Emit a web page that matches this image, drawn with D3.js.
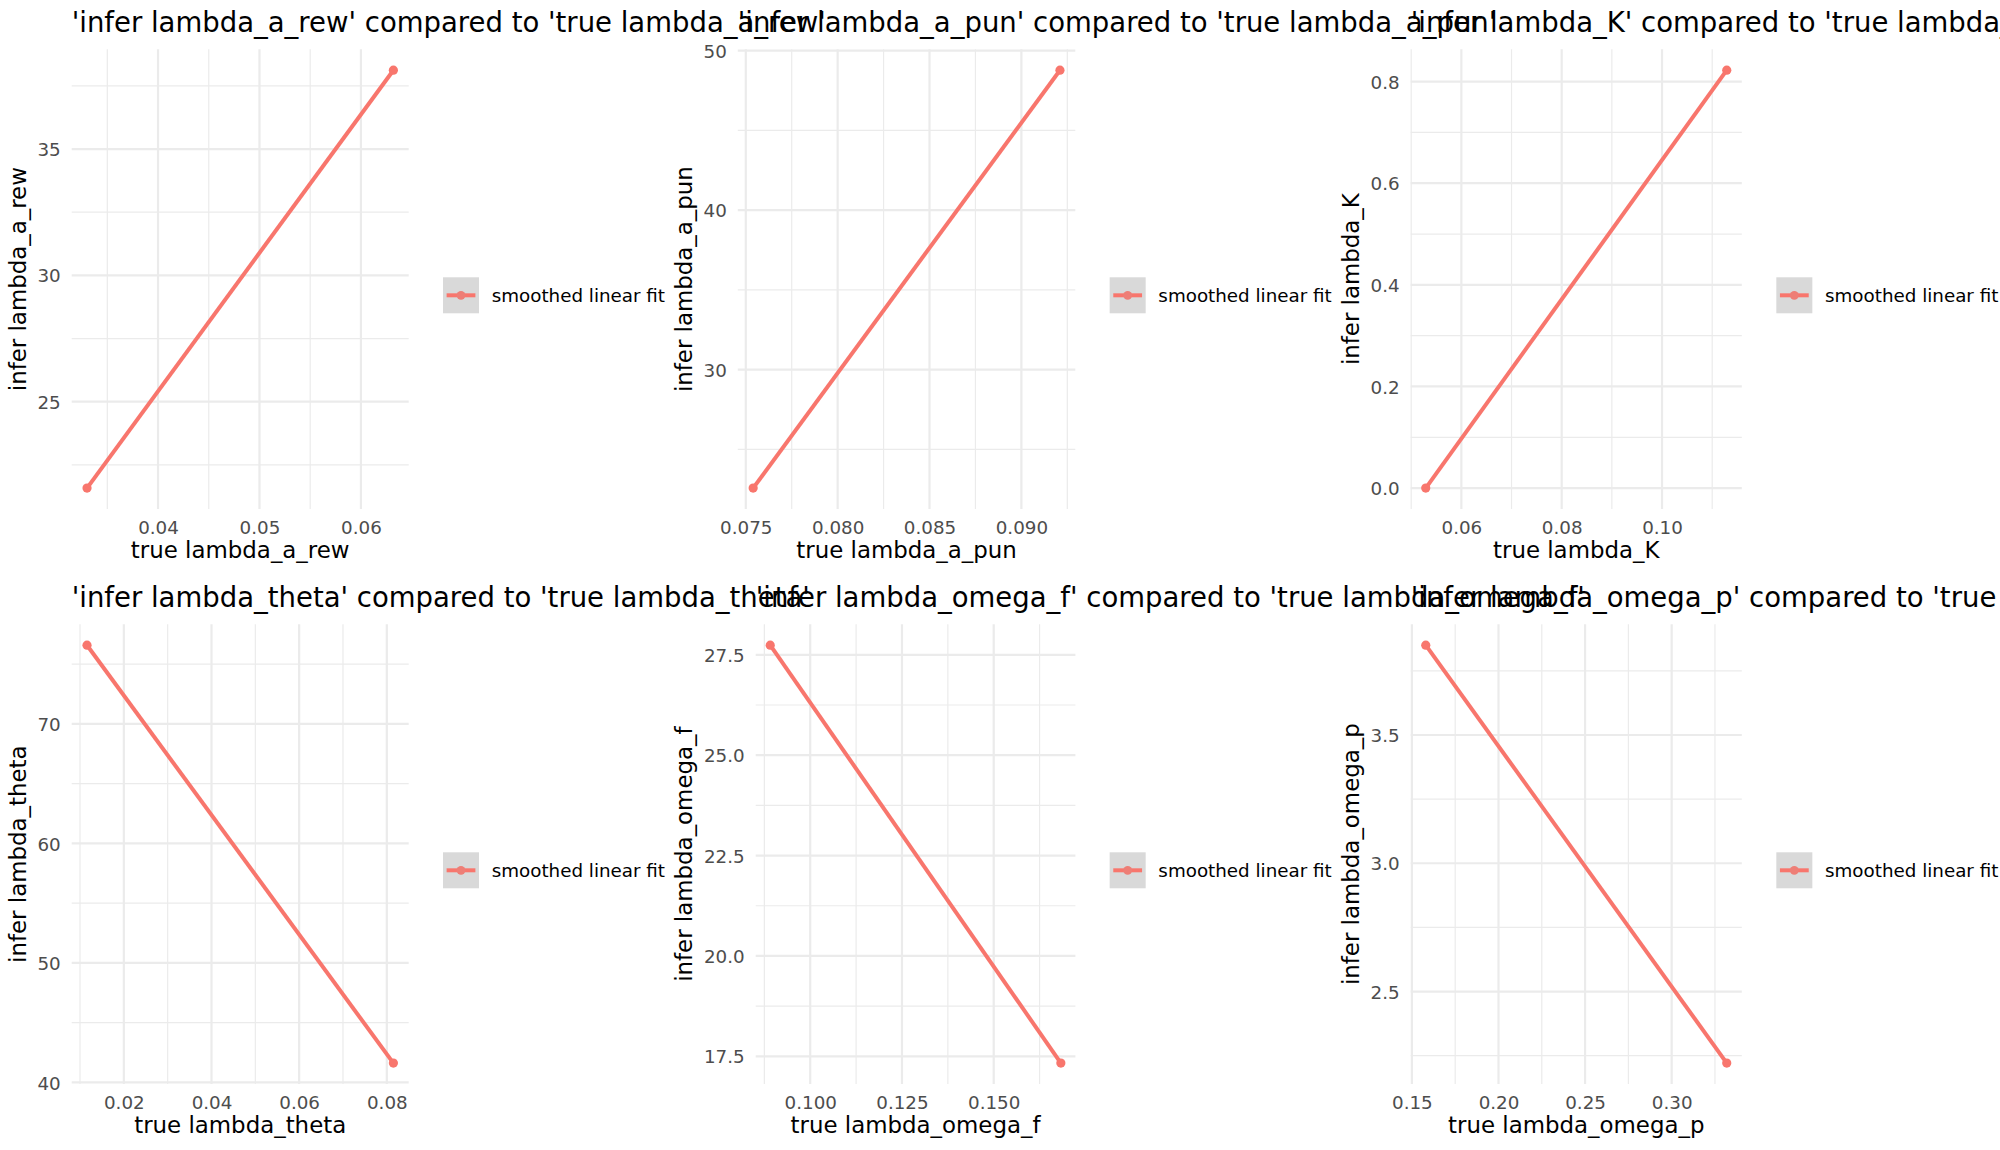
<!DOCTYPE html>
<html>
<head>
<meta charset="utf-8">
<script src="https://cdn.jsdelivr.net/npm/d3@7"></script>
<style>
  html, body { margin: 0; padding: 0; background: #fff; }
  svg { display: block; font-family: "DejaVu Sans", sans-serif; }
</style>
</head>
<body>
<svg id="chart" width="2000" height="1150"></svg>
<script>
// ---------------- data ----------------
const paramNames = ["lambda_a_rew", "lambda_a_pun", "lambda_K", "lambda_theta", "lambda_omega_f", "lambda_omega_p"];
const trueValues = [
  [0.0330, 0.0632],
  [0.0754, 0.0921],
  [0.0529, 0.1129],
  [0.0116, 0.0815],
  [0.0891, 0.1683],
  [0.1580, 0.3318]
];
const inferValues = [
  [21.58, 38.12],
  [22.57, 48.77],
  [0.000, 0.8224],
  [76.59, 41.62],
  [27.74, 17.33],
  [3.850, 2.221]
];
const xTickValues = [
  [0.04, 0.05, 0.06],
  [0.075, 0.080, 0.085, 0.090],
  [0.06, 0.08, 0.10],
  [0.02, 0.04, 0.06, 0.08],
  [0.100, 0.125, 0.150],
  [0.15, 0.20, 0.25, 0.30]
];
const xTickLabels = [
  ["0.04", "0.05", "0.06"],
  ["0.075", "0.080", "0.085", "0.090"],
  ["0.06", "0.08", "0.10"],
  ["0.02", "0.04", "0.06", "0.08"],
  ["0.100", "0.125", "0.150"],
  ["0.15", "0.20", "0.25", "0.30"]
];
const xMinorValues = [
  [0.035, 0.045, 0.055],
  [0.0775, 0.0825, 0.0875, 0.0925],
  [0.05, 0.07, 0.09, 0.11],
  [0.01, 0.03, 0.05, 0.07],
  [0.0875, 0.1125, 0.1375, 0.1625],
  [0.175, 0.225, 0.275, 0.325]
];
const yTickValues = [
  [25, 30, 35],
  [30, 40, 50],
  [0.0, 0.2, 0.4, 0.6, 0.8],
  [40, 50, 60, 70],
  [17.5, 20.0, 22.5, 25.0, 27.5],
  [2.5, 3.0, 3.5]
];
const yTickLabels = [
  ["25", "30", "35"],
  ["30", "40", "50"],
  ["0.0", "0.2", "0.4", "0.6", "0.8"],
  ["40", "50", "60", "70"],
  ["17.5", "20.0", "22.5", "25.0", "27.5"],
  ["2.5", "3.0", "3.5"]
];
const yMinorValues = [
  [22.5, 27.5, 32.5, 37.5],
  [25, 35, 45],
  [0.1, 0.3, 0.5, 0.7],
  [45, 55, 65, 75],
  [18.75, 21.25, 23.75, 26.25],
  [2.25, 2.75, 3.25, 3.75]
];
const legendLabel = "smoothed linear fit";

// ---------------- layout ----------------
const cellW = 2000 / 3, cellH = 575;
const panelLeft = [71.7, 737.8, 1410.7, 71.7, 755.7, 1410.7];
const panelRight = [408.7, 1075.3, 1741.8, 408.7, 1075.4, 1741.8];
const panelTop = 49.3, panelBottom = 509;

const COLOR = "#F8766D";
const GRID = "#EBEBEB";

const svg = d3.select("#chart");
svg.append("rect").attr("width", 2000).attr("height", 1150).attr("fill", "#fff");

function expand(ext) {
  const lo = Math.min(...ext), hi = Math.max(...ext);
  const pad = (hi - lo) * 0.05;
  return [lo - pad, hi + pad];
}

paramNames.forEach((name, i) => {
  const col = i % 3, row = Math.floor(i / 3);
  const top = panelTop + row * cellH, bottom = panelBottom + row * cellH;
  const left = panelLeft[i], right = panelRight[i];
  const cellLeft = col * cellW, cellTop = row * cellH;

  const x = d3.scaleLinear().domain(expand(trueValues[i])).range([left, right]);
  const y = d3.scaleLinear().domain(expand(inferValues[i])).range([bottom, top]);

  const g = svg.append("g");

  // minor grid
  g.selectAll(".vminor").data(xMinorValues[i]).enter().append("line")
    .attr("x1", d => x(d)).attr("x2", d => x(d)).attr("y1", top).attr("y2", bottom)
    .attr("stroke", GRID).attr("stroke-width", 1.2);
  g.selectAll(".hminor").data(yMinorValues[i]).enter().append("line")
    .attr("y1", d => y(d)).attr("y2", d => y(d)).attr("x1", left).attr("x2", right)
    .attr("stroke", GRID).attr("stroke-width", 1.2);
  // major grid
  g.selectAll(".vmajor").data(xTickValues[i]).enter().append("line")
    .attr("x1", d => x(d)).attr("x2", d => x(d)).attr("y1", top).attr("y2", bottom)
    .attr("stroke", GRID).attr("stroke-width", 2.2);
  g.selectAll(".hmajor").data(yTickValues[i]).enter().append("line")
    .attr("y1", d => y(d)).attr("y2", d => y(d)).attr("x1", left).attr("x2", right)
    .attr("stroke", GRID).attr("stroke-width", 2.2);

  // axes (labels only) via d3 axes
  const xAxis = d3.axisBottom(x).tickValues(xTickValues[i])
    .tickFormat((d, k) => xTickLabels[i][k]).tickSize(0).tickPadding(0);
  const xa = g.append("g").attr("transform", `translate(0,${bottom})`).call(xAxis);
  xa.select(".domain").remove();
  xa.selectAll("text").attr("y", 24.5).attr("dy", null)
    .attr("fill", "#4D4D4D").style("font-size", "18.3px").style("font-family", "DejaVu Sans");

  const yAxis = d3.axisLeft(y).tickValues(yTickValues[i])
    .tickFormat((d, k) => yTickLabels[i][k]).tickSize(0).tickPadding(0);
  const ya = g.append("g").attr("transform", `translate(${left},0)`).call(yAxis);
  ya.select(".domain").remove();
  ya.selectAll("text").attr("x", -11).attr("dy", "0.36em")
    .attr("fill", "#4D4D4D").style("font-size", "18.3px").style("font-family", "DejaVu Sans");

  // series
  const pts = trueValues[i].map((tv, k) => [tv, inferValues[i][k]]);
  g.append("path").datum(pts)
    .attr("d", d3.line().x(d => x(d[0])).y(d => y(d[1])))
    .attr("fill", "none").attr("stroke", COLOR).attr("stroke-width", 4)
    .attr("stroke-linecap", "butt");
  g.selectAll(".pt").data(pts).enter().append("circle")
    .attr("cx", d => x(d[0])).attr("cy", d => y(d[1])).attr("r", 4.6)
    .attr("fill", COLOR);

  // titles
  g.append("text").attr("x", left).attr("y", top - 17.6)
    .style("font-size", "27.5px").attr("fill", "#000")
    .text(`'infer ${name}' compared to 'true ${name}'`);
  g.append("text").attr("x", (left + right) / 2).attr("y", bottom + 49)
    .attr("text-anchor", "middle").style("font-size", "22.9px").attr("fill", "#000")
    .text(`true ${name}`);
  g.append("text")
    .attr("transform", `translate(${cellLeft + 25.7},${(top + bottom) / 2}) rotate(-90)`)
    .attr("text-anchor", "middle").style("font-size", "22.9px").attr("fill", "#000")
    .text(`infer ${name}`);

  // legend
  const lx = cellLeft + 443, ly = cellTop + 277.3;
  g.append("rect").attr("x", lx).attr("y", ly).attr("width", 36).attr("height", 36)
    .attr("fill", "#D9D9D9");
  g.append("line").attr("x1", lx + 3.6).attr("x2", lx + 32.4)
    .attr("y1", ly + 18).attr("y2", ly + 18)
    .attr("stroke", COLOR).attr("stroke-width", 4);
  g.append("circle").attr("cx", lx + 18).attr("cy", ly + 18).attr("r", 4.4)
    .attr("fill", "#EE7E76");
  g.append("text").attr("x", lx + 48.7).attr("y", ly + 24.7)
    .style("font-size", "18.3px").attr("fill", "#000").text(legendLabel);
});
</script>
</body>
</html>
